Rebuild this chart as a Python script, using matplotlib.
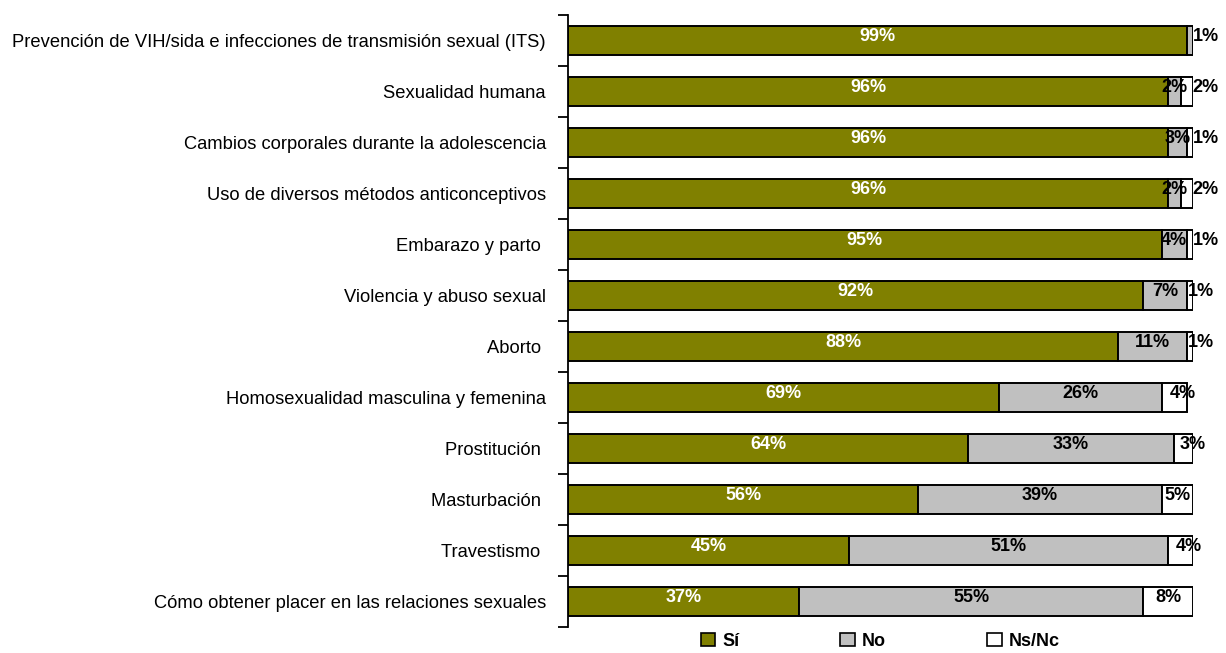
import matplotlib
matplotlib.use('Agg')
import numpy as np
import matplotlib.pyplot as plt
from matplotlib.patches import Patch

plt.rcParams['font.family'] = ['Liberation Sans', 'DejaVu Sans']

categories = [
    "Prevención de VIH/sida e infecciones de transmisión sexual (ITS)",
    "Sexualidad humana",
    "Cambios corporales durante la adolescencia",
    "Uso de diversos métodos anticonceptivos",
    "Embarazo y parto ",
    "Violencia y abuso sexual",
    "Aborto ",
    "Homosexualidad masculina y femenina",
    "Prostitución ",
    "Masturbación ",
    "Travestismo ",
    "Cómo obtener placer en las relaciones sexuales",
]
si = [99, 96, 96, 96, 95, 92, 88, 69, 64, 56, 45, 37]
no = [1, 2, 3, 2, 4, 7, 11, 26, 33, 39, 51, 55]
nsnc = [0, 2, 1, 2, 1, 1, 1, 4, 3, 5, 4, 8]

series = [("Sí", si, "#808000"), ("No", no, "#C0C0C0"), ("Ns/Nc", nsnc, "#FFFFFF")]

fig = plt.figure(figsize=(12.26, 6.53), dpi=100)
ax = fig.add_axes([568/1226, 26/653, 625/1226, 612/653])

y = np.arange(len(categories))
left = np.zeros(len(categories))
for si_idx, (name, vals, col) in enumerate(series):
    vals = np.array(vals, dtype=float)
    ax.barh(y, vals, left=left, height=0.56, color=col, edgecolor='black',
            linewidth=1.4, label=name)
    for i, v in enumerate(vals):
        if v <= 0:
            continue
        cx = left[i] + v / 2
        if v <= 2 and left[i] + v >= 99.5 and (si_idx == 2 or nsnc[i] == 0):
            # tiny end segments: label sits just past the bar
            cx = 102 if v >= 2 or si_idx == 1 or i < 5 else 101.2
        elif si_idx == 2 and 3 <= v <= 4:
            cx += 1.4
        ax.text(cx, y[i] - 0.07, f"{int(v)}%", ha='center', va='center',
                fontsize=13, fontweight='bold',
                color='white' if si_idx == 0 else 'black', clip_on=False)
    left += vals

ax.set_xlim(0, 100)
ax.set_ylim(len(categories) - 0.5, -0.5)
ax.set_yticks(y)
ax.set_yticklabels(categories, fontsize=13.2)
ax.tick_params(axis='y', which='major', length=0, pad=16)
ax.set_yticks(np.arange(len(categories) + 1) - 0.5, minor=True)
ax.tick_params(axis='y', which='minor', length=7, width=1.3, direction='out')
ax.set_xticks([])
for s in ['top', 'right', 'bottom']:
    ax.spines[s].set_visible(False)
ax.spines['left'].set_linewidth(1.3)

handles = [Patch(facecolor=c, edgecolor='black', linewidth=1.2, label=n) for n, _, c in series]
leg = fig.legend(handles=handles, loc='center', bbox_to_anchor=(0.718, 0.018), ncol=3,
                 frameon=False, handlelength=0.8, handleheight=0.8, handletextpad=0.4,
                 columnspacing=5.6, prop={'weight': 'bold', 'size': 13})

fig.savefig('out.png', dpi=100)
